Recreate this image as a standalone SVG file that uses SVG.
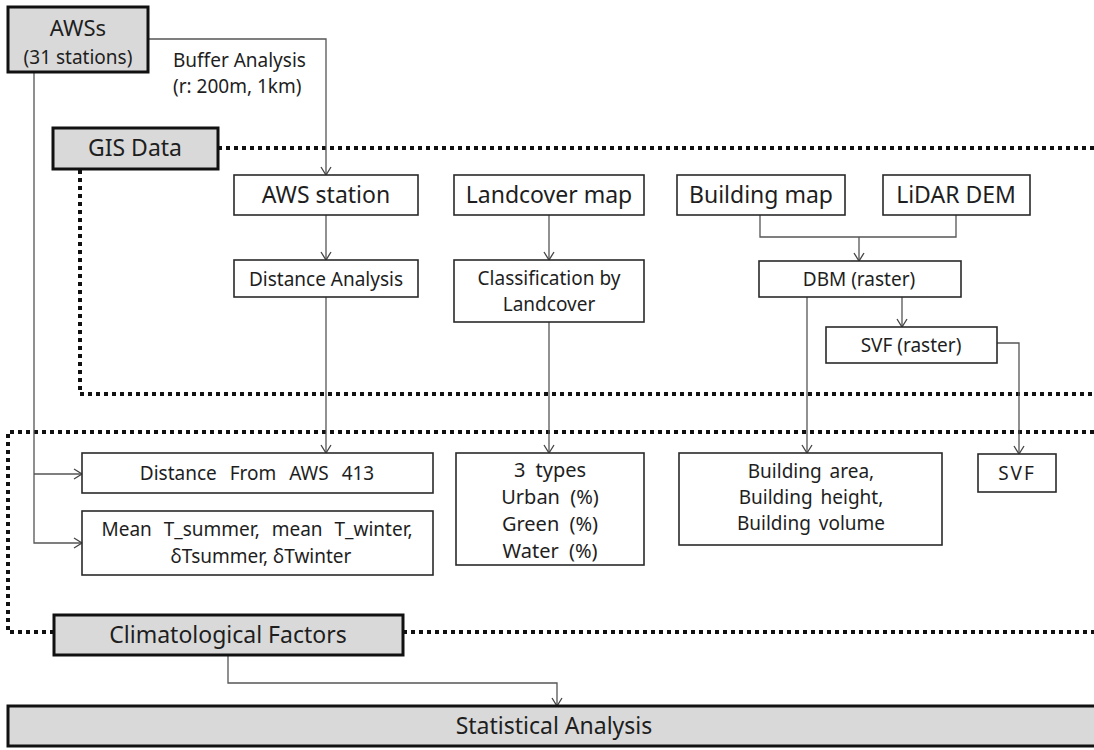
<svg xmlns="http://www.w3.org/2000/svg" width="1094" height="750" viewBox="0 0 1094 750">
<defs>
<marker id="arr" markerUnits="userSpaceOnUse" markerWidth="12" markerHeight="12" refX="9" refY="5" orient="auto" viewBox="0 0 12 10">
<path d="M1,0 L9,5 L1,10" fill="none" stroke="#444" stroke-width="1.3"/>
</marker>
</defs>
<style>
text{font-family:"Noto Sans","Open Sans",sans-serif;fill:#1e1e1e;text-anchor:middle}
.box{fill:#fff;stroke:#2a2a2a;stroke-width:1.6}
.hd{fill:#d9d9d9;stroke:#111;stroke-width:3}
.con{fill:none;stroke:#555;stroke-width:1.3}
.dot{fill:none;stroke:#111;stroke-width:4;stroke-dasharray:4 4}
.t23{font-size:23px}
.t22{font-size:22px}
.t20{font-size:20px}
.t19{font-size:19px}
</style>
<rect width="1094" height="750" fill="#fff"/>
<g id="frames">
<path class="dot" d="M218,148 L1094,148"/>
<path class="dot" d="M80,170 L80,394 L1094,394"/>
<path class="dot" d="M1094,432 L8,432 L8,632 L54,632"/>
<path class="dot" d="M403,632 L1094,632"/>
</g>
<g id="connectors">
<path class="con" d="M148,39 L326,39 L326,175" marker-end="url(#arr)"/>
<path class="con" d="M326,215 L326,260" marker-end="url(#arr)"/>
<path class="con" d="M549,215 L549,260" marker-end="url(#arr)"/>
<path class="con" d="M760,215 L760,237 L956,237 L956,215"/>
<path class="con" d="M859,237 L859,261" marker-end="url(#arr)"/>
<path class="con" d="M902,297 L902,327" marker-end="url(#arr)"/>
<path class="con" d="M326,297 L326,453" marker-end="url(#arr)"/>
<path class="con" d="M549,322 L549,453" marker-end="url(#arr)"/>
<path class="con" d="M807,297 L807,453" marker-end="url(#arr)"/>
<path class="con" d="M997,343 L1019,343 L1019,454" marker-end="url(#arr)"/>
<path class="con" d="M34,72 L34,543 L82,543" marker-end="url(#arr)"/>
<path class="con" d="M34,474 L82,474" marker-end="url(#arr)"/>
<path class="con" d="M228,655 L228,683 L557,683 L557,706" marker-end="url(#arr)"/>
<text class="t19" x="173" y="67" style="text-anchor:start">Buffer Analysis</text>
<text class="t19" x="173" y="93" style="text-anchor:start">(r: 200m, 1km)</text>
</g>
<g id="aws"><rect class="hd" x="8" y="7" width="140" height="65"/>
<text class="t22" x="78" y="36">AWSs</text><text class="t19" x="78" y="64">(31 stations)</text></g>
<g id="gis"><rect class="hd" x="53" y="128" width="165" height="41"/><text class="t23" x="135" y="156">GIS Data</text></g>
<g id="awsstation"><rect class="box" x="234" y="175" width="184" height="40"/><text class="t23" x="326" y="203">AWS station</text></g>
<g id="landcover"><rect class="box" x="454" y="175" width="190" height="40"/><text class="t23" x="549" y="203">Landcover map</text></g>
<g id="building"><rect class="box" x="677" y="175" width="168" height="40"/><text class="t23" x="761" y="203">Building map</text></g>
<g id="lidar"><rect class="box" x="883" y="175" width="147" height="40"/><text class="t23" x="956" y="203">LiDAR DEM</text></g>
<g id="distance"><rect class="box" x="234" y="260" width="184" height="37"/><text class="t19" x="326" y="286">Distance Analysis</text></g>
<g id="classification"><rect class="box" x="454" y="260" width="190" height="62"/><text class="t19" x="549" y="285">Classification by</text><text class="t19" x="549" y="311">Landcover</text></g>
<g id="dbm"><rect class="box" x="759" y="261" width="202" height="36"/><text class="t19" x="859" y="286">DBM (raster)</text></g>
<g id="svfr"><rect class="box" x="826" y="327" width="171" height="36"/><text class="t19" x="911" y="352">SVF (raster)</text></g>
<g id="distfrom"><rect class="box" x="82" y="453" width="351" height="40"/><text class="t19" x="257" y="480" style="word-spacing:8px">Distance From AWS 413</text></g>
<g id="meant"><rect class="box" x="82" y="511" width="351" height="64"/><text class="t19" x="257" y="536" style="word-spacing:7px">Mean T_summer, mean T_winter,</text><text class="t19" x="261" y="563">δTsummer, δTwinter</text></g>
<g id="types"><rect class="box" x="456" y="453" width="188" height="112"/><text class="t20" x="550" y="477" style="word-spacing:5px">3 types</text><text class="t20" x="550" y="504" style="word-spacing:5px">Urban (%)</text><text class="t20" x="550" y="531" style="word-spacing:5px">Green (%)</text><text class="t20" x="550" y="558" style="word-spacing:5px">Water (%)</text></g>
<g id="bldg"><rect class="box" x="679" y="453" width="263" height="92"/><text class="t19" x="811" y="478" style="word-spacing:3px">Building area,</text><text class="t19" x="811" y="504" style="word-spacing:3px">Building height,</text><text class="t19" x="811" y="530" style="word-spacing:3px">Building volume</text></g>
<g id="svf"><rect class="box" x="978" y="454" width="78" height="38"/><text class="t19" x="1017" y="480" style="letter-spacing:2px">SVF</text></g>
<g id="clim"><rect class="hd" x="54" y="615" width="349" height="40"/><text class="t23" x="228" y="643">Climatological Factors</text></g>
<g id="stat"><rect class="hd" x="8" y="706" width="1090" height="40"/><text class="t23" x="554" y="734">Statistical Analysis</text></g>
</svg>
